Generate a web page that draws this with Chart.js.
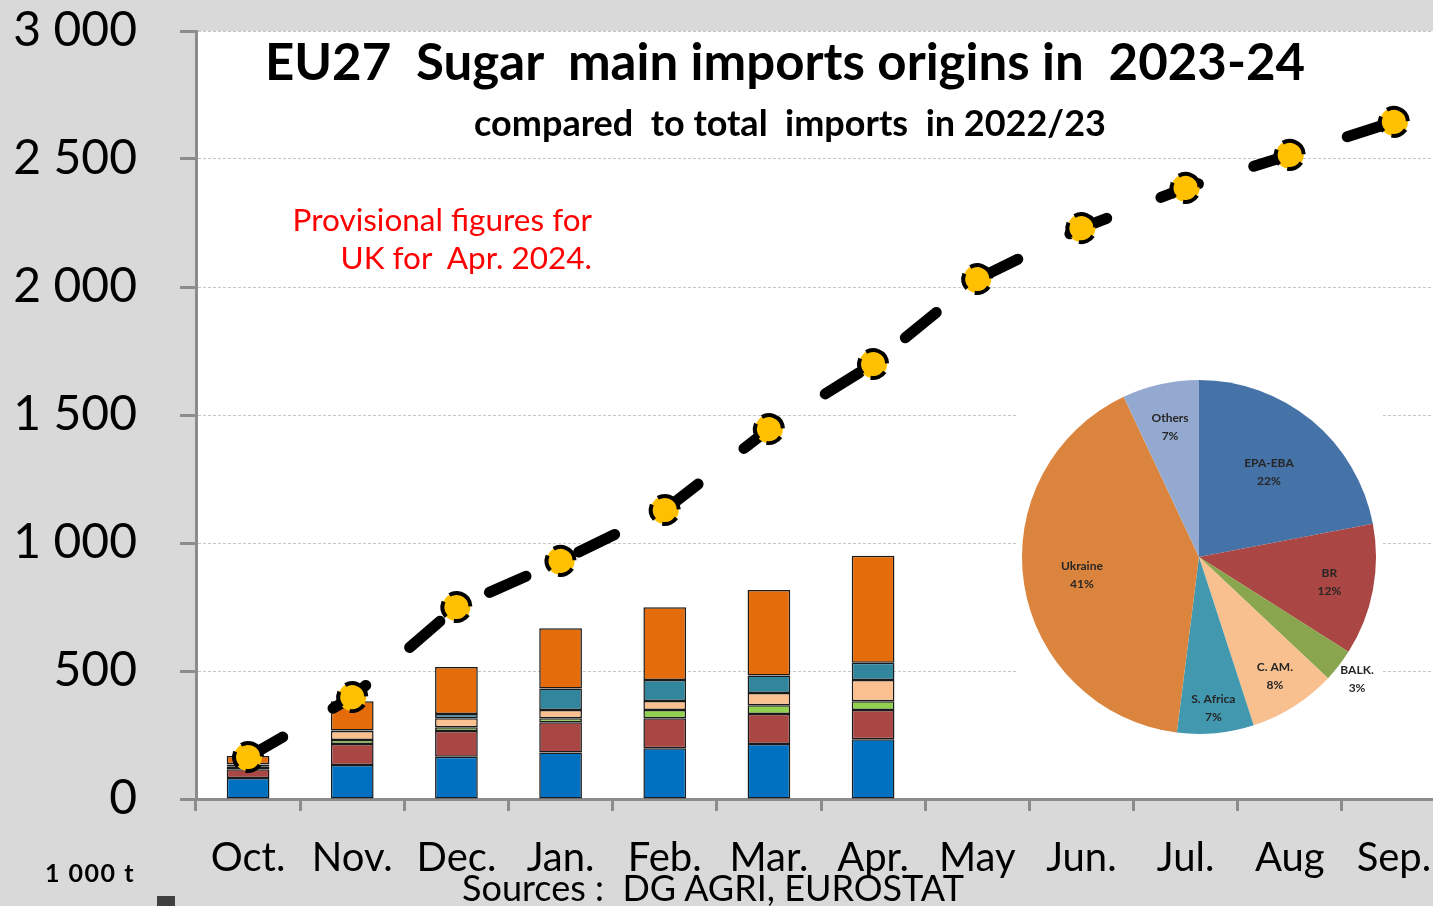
<!DOCTYPE html>
<html>
<head>
<meta charset="utf-8">
<script src="https://cdn.jsdelivr.net/npm/chart.js@4.4.0/dist/chart.umd.min.js"></script>
<style>
  body { margin: 0; background: #d9d9d9; overflow: hidden; font-family: Lato, "Open Sans", sans-serif; }
  #wrap { position: relative; width: 1460px; height: 906px; }
  #main { position: absolute; left: 0; top: 0; width: 1460px; height: 906px; }
  #pie { position: absolute; left: 1016px; top: 378px; background: #fff; }
  .txt { position: absolute; line-height: 1; white-space: pre; color: #000; }
</style>
</head>
<body>
<div id="wrap">
  <canvas id="main" width="1460" height="906"></canvas>
  <canvas id="pie" width="366" height="358"></canvas>
  <div class="txt" style="left:185px;width:1200px;text-align:center;top:35px;font-size:51px;font-weight:700;">EU27  Sugar  main imports origins in  2023-24</div>
  <div class="txt" style="left:390px;width:800px;text-align:center;top:104px;font-size:36px;font-weight:700;">compared  to total  imports  in 2022/23</div>
  <div class="txt" style="left:200px;width:392px;text-align:right;top:200px;font-size:31.5px;line-height:38px;color:#ff0000;">Provisional figures for
UK for  Apr. 2024.</div>
  <div class="txt" style="left:413px;width:600px;text-align:center;top:869px;font-size:36px;">Sources :  DG AGRI, EUROSTAT</div>
  <div class="txt" style="left:45px;top:860px;font-size:25px;font-weight:700;letter-spacing:1.5px;">1 000 t</div>
  <div style="position:absolute;left:157px;top:896px;width:18px;height:10px;background:#404040;"></div>
</div>
<script>
const months = ['Oct.', 'Nov.', 'Dec.', 'Jan.', 'Feb.', 'Mar.', 'Apr.', 'May', 'Jun.', 'Jul.', 'Aug', 'Sep.'];

// 2023-24 monthly cumulative imports by origin (1 000 t)
const epaEba = [82, 133, 165, 182, 198, 215, 233];
const brazil = [34, 82, 101, 118, 117, 117, 115];
const balkans = [12, 15, 14, 15, 33, 34, 34];
const centralAm = [6, 36, 35, 33, 35, 48, 83];
const southAfrica = [2, 2, 17, 84, 82, 68, 67];
const ukraine = [32, 114, 184, 235, 284, 334, 418];

// cumulative total imports 2022/23
const total2223 = [164, 398, 750, 930, 1129, 1445, 1699, 2031, 2230, 2387, 2516, 2645];

// pie: origins share 2022/23
const pieLabels = ['EPA-EBA', 'BR', 'BALK.', 'C. AM.', 'S. Africa', 'Ukraine', 'Others'];
const pieShares = [22, 12, 3, 8, 7, 41, 7];

const GREY = '#8c8c8c';

const plotBackground = {
    id: 'plotBackground',
    beforeDraw(chart) {
        const { ctx, chartArea } = chart;
        ctx.save();
        ctx.fillStyle = '#ffffff';
        ctx.fillRect(chartArea.left, chartArea.top, chartArea.right - chartArea.left, chartArea.bottom - chartArea.top);
        ctx.restore();
    }
};

// dashed black ring around each marker
const dashedMarkers = {
    id: 'dashedMarkers',
    afterDatasetDraw(chart, args) {
        if (args.meta.type !== 'line') return;
        const ctx = chart.ctx;
        ctx.save();
        ctx.strokeStyle = '#000';
        ctx.lineWidth = 4;
        ctx.setLineDash([16, 9]);
        args.meta.data.forEach(pt => {
            ctx.beginPath();
            ctx.arc(pt.x, pt.y, 14, -1.2, -1.2 + Math.PI * 2);
            ctx.stroke();
        });
        ctx.restore();
    }
};

function fmt (v) {
    if (v < 1000) return String(v);
    return Math.floor(v / 1000) + ' ' + String(v % 1000).padStart(3, '0');
}

function barSet (label, data, color) {
    return {
        type: 'bar',
        label: label,
        data: data,
        backgroundColor: color,
        borderColor: '#1a1a1a',
        borderWidth: 1.5,
        borderSkipped: false,
        stack: 'origins',
        order: 1,
        barPercentage: 0.41,
        categoryPercentage: 1
    };
}

new Chart(document.getElementById('main'), {
    type: 'bar',
    data: {
        labels: months,
        datasets: [
            {
                type: 'line',
                label: 'Total 2022/23',
                data: total2223,
                borderColor: '#000',
                borderWidth: 11,
                borderDash: [40, 58],
                borderCapStyle: 'round',
                pointRadius: 14,
                pointBackgroundColor: '#FFC000',
                pointBorderWidth: 0,
                stack: 'total',
                order: 0
            },
            barSet('EPA-EBA', epaEba, '#0070C0'),
            barSet('BR', brazil, '#A94744'),
            barSet('BALK.', balkans, '#92D050'),
            barSet('C. AM.', centralAm, '#FAC090'),
            barSet('S. Africa', southAfrica, '#31859C'),
            barSet('Ukraine', ukraine, '#E46C0A')
        ]
    },
    options: {
        responsive: false,
        animation: false,
        devicePixelRatio: 1,
        layout: { padding: { top: 31, right: 10, left: 0, bottom: 0 } },
        plugins: {
            legend: { display: false },
            tooltip: { enabled: false }
        },
        scales: {
            x: {
                stacked: true,
                afterFit: (scale) => {
                    scale.height = 107;
                    scale.paddingLeft = 0;
                    scale.paddingRight = 0;
                },
                grid: {
                    drawOnChartArea: false,
                    drawTicks: true,
                    offset: true,
                    tickLength: 12,
                    tickColor: GREY,
                    tickWidth: 3
                },
                border: { color: GREY, width: 3 },
                ticks: {
                    color: '#000',
                    padding: 23,
                    font: { family: 'Lato', size: 40 },
                    maxRotation: 0,
                    autoSkip: false
                }
            },
            y: {
                stacked: true,
                min: 0,
                max: 3000,
                afterFit: (scale) => {
                    scale.width = 196;
                    scale.paddingTop = 0;
                    scale.paddingBottom = 0;
                },
                grid: {
                    color: '#c6c6c6',
                    lineWidth: 1,
                    tickLength: 16,
                    tickColor: GREY,
                    tickWidth: 3,
                    tickBorderDash: []
                },
                border: { color: GREY, width: 3, dash: [3, 2] },
                ticks: {
                    stepSize: 500,
                    color: '#000',
                    padding: 43,
                    font: { family: 'Lato', size: 48 },
                    callback: (v) => fmt(v)
                }
            }
        }
    },
    plugins: [plotBackground, dashedMarkers]
});

// label radius as a fraction of the pie radius
const pieLabelRadius = [0.62, 0.75, 1.13, 0.8, 0.86, 0.67, 0.75];

const pieLabelsPlugin = {
    id: 'pieLabels',
    afterDatasetsDraw(chart) {
        const ctx = chart.ctx;
        const meta = chart.getDatasetMeta(0);
        ctx.save();
        ctx.fillStyle = '#262626';
        ctx.font = 'bold 12px Lato';
        ctx.textAlign = 'center';
        ctx.textBaseline = 'middle';
        meta.data.forEach((arc, i) => {
            const { x, y, startAngle, endAngle, outerRadius } = arc.getProps(['x', 'y', 'startAngle', 'endAngle', 'outerRadius']);
            const mid = (startAngle + endAngle) / 2;
            const r = outerRadius * pieLabelRadius[i];
            const lx = x + Math.cos(mid) * r;
            const ly = y + Math.sin(mid) * r;
            ctx.fillText(pieLabels[i], lx, ly - 9);
            ctx.fillText(pieShares[i] + '%', lx, ly + 9);
        });
        ctx.restore();
    }
};

new Chart(document.getElementById('pie'), {
    type: 'pie',
    data: {
        labels: pieLabels,
        datasets: [{
            data: pieShares,
            backgroundColor: ['#4572A7', '#AA4643', '#89A54E', '#F9C08F', '#4198AF', '#DB843D', '#93A9CF'],
            borderWidth: 0
        }]
    },
    options: {
        responsive: false,
        animation: false,
        devicePixelRatio: 1,
        layout: { padding: 2 },
        plugins: {
            legend: { display: false },
            tooltip: { enabled: false }
        }
    },
    plugins: [pieLabelsPlugin]
});
</script>
</body>
</html>
